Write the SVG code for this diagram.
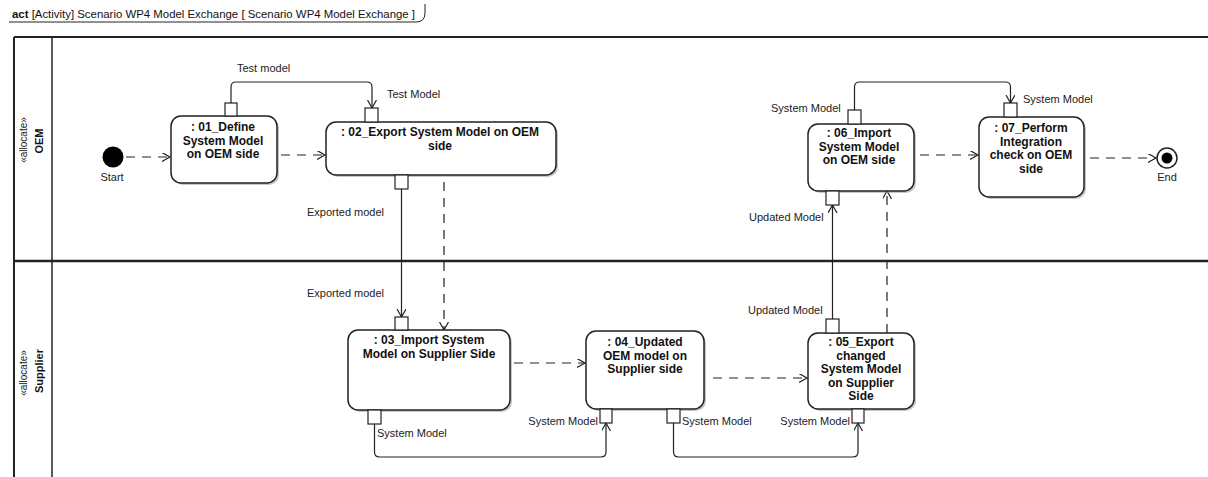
<svg xmlns="http://www.w3.org/2000/svg" width="1208" height="477" viewBox="0 0 1208 477">
  <defs>
    <marker id="open" markerWidth="10" markerHeight="10" refX="8" refY="4.5" orient="auto" markerUnits="userSpaceOnUse">
      <path d="M0,0 L8,4.5 L0,9" fill="none" stroke="#222" stroke-width="1.2"/>
    </marker>
  </defs>
  <style>
    .frame { fill: none; stroke: #222; }
    .box { fill: #fff; stroke: #222; stroke-width: 1.5; }
    .shadow { fill: #999; opacity: 0.55; }
    .pin { fill: #fff; stroke: #222; stroke-width: 1.2; }
    .flow { fill: none; stroke: #222; stroke-width: 1.2; marker-end: url(#open); }
    .ctrl { fill: none; stroke: #222; stroke-width: 1.2; stroke-dasharray: 9 7; marker-end: url(#open); }
    .title { font-family: "Liberation Sans", Arial, sans-serif; font-size: 11px; fill: #111; }
    .name { font-family: "Liberation Sans", Arial, sans-serif; font-size: 12px; font-weight: bold; fill: #111; text-anchor: middle; }
    .lbl { font-family: "Liberation Sans", Arial, sans-serif; font-size: 11px; fill: #222; }
    .stereo { font-family: "Liberation Sans", Arial, sans-serif; font-size: 10px; fill: #222; text-anchor: middle; }
    .lane { font-family: "Liberation Sans", Arial, sans-serif; font-size: 11px; font-weight: bold; fill: #111; text-anchor: middle; }
  </style>
  <rect width="1208" height="477" fill="#fff"/>

  <!-- diagram frame header -->
  <g id="frame-header">
    <text class="title" x="12" y="18" textLength="403" lengthAdjust="spacingAndGlyphs"><tspan font-weight="bold">act</tspan> [Activity] Scenario WP4 Model Exchange [ Scenario WP4 Model Exchange ]</text>
    <path class="frame" stroke-width="1" d="M9,22 H416 Q425,22 425,13 V4"/>
  </g>

  <!-- swimlanes -->
  <g id="lanes">
    <path class="frame" stroke-width="2" d="M14,37 H1208 M14,37 V477"/>
    <path class="frame" stroke-width="1.5" d="M52,37 V477"/>
    <path class="frame" stroke-width="2.5" d="M14,261 H1208"/>
    <g id="lane-oem">
      <text class="stereo" transform="translate(27,140) rotate(-90)">«allocate»</text>
      <text class="lane" transform="translate(43,141) rotate(-90)">OEM</text>
    </g>
    <g id="lane-supplier">
      <text class="stereo" transform="translate(27,373) rotate(-90)">«allocate»</text>
      <text class="lane" transform="translate(43,371) rotate(-90)">Supplier</text>
    </g>
  </g>

  <!-- connectors -->
  <g id="connectors">
    <!-- control flows -->
    <path class="ctrl" d="M126,157 H170"/>
    <path class="ctrl" d="M281,155 H325"/>
    <path class="ctrl" d="M444,182 V330"/>
    <path class="ctrl" d="M514,363 H585"/>
    <path class="ctrl" d="M713,378 H807"/>
    <path class="ctrl" d="M887,333 V191"/>
    <path class="ctrl" d="M920,155 H978"/>
    <path class="ctrl" d="M1090,158 H1156"/>
    <!-- object flows -->
    <path class="flow" d="M231,103 V87 Q231,82 236,82 H367 Q372,82 372,87 V108"/>
    <path class="flow" d="M401.5,189 V317"/>
    <path class="flow" d="M374.5,424 V452 Q374.5,457 379.5,457 H601 Q606,457 606,452 V423"/>
    <path class="flow" d="M673.5,423 V452 Q673.5,457 678.5,457 H853 Q858,457 858,452 V423"/>
    <path class="flow" d="M832.5,319 V205"/>
    <path class="flow" d="M854.5,110 V87 Q854.5,82 859.5,82 H1005.5 Q1010.5,82 1010.5,87 V103"/>
  </g>

  <!-- connector labels -->
  <g id="connector-labels">
    <text class="lbl" x="237" y="72">Test model</text>
    <text class="lbl" x="387" y="98">Test Model</text>
    <text class="lbl" x="307" y="216">Exported model</text>
    <text class="lbl" x="307" y="297">Exported model</text>
    <text class="lbl" x="377" y="437">System Model</text>
    <text class="lbl" x="598" y="425" text-anchor="end">System Model</text>
    <text class="lbl" x="682" y="425">System Model</text>
    <text class="lbl" x="850" y="425" text-anchor="end">System Model</text>
    <text class="lbl" x="748" y="314">Updated Model</text>
    <text class="lbl" x="749" y="221">Updated Model</text>
    <text class="lbl" x="771" y="112">System Model</text>
    <text class="lbl" x="1023" y="103">System Model</text>
  </g>

  <!-- start / end -->
  <g id="start">
    <circle cx="113" cy="157" r="10.5" fill="#000"/>
    <text class="lbl" x="112" y="181" text-anchor="middle">Start</text>
  </g>
  <g id="end">
    <circle cx="1167" cy="158" r="10" fill="#fff" stroke="#222" stroke-width="1.5"/>
    <circle cx="1167" cy="158" r="5.5" fill="#000"/>
    <text class="lbl" x="1167" y="181" text-anchor="middle">End</text>
  </g>

  <!-- actions -->
  <g id="a01">
    <rect class="shadow" x="173" y="118" width="106" height="67" rx="10"/>
    <rect class="box" x="171" y="116" width="106" height="67" rx="10"/>
    <rect class="pin" x="225" y="103" width="12" height="13"/>
    <text class="name" x="223" y="131">: 01_Define</text>
    <text class="name" x="223" y="144.5">System Model</text>
    <text class="name" x="223" y="158">on OEM side</text>
  </g>

  <g id="a02">
    <rect class="shadow" x="328" y="124" width="230" height="53" rx="10"/>
    <rect class="box" x="326" y="122" width="230" height="53" rx="10"/>
    <rect class="pin" x="365" y="108" width="13" height="14"/>
    <rect class="pin" x="395" y="175" width="13" height="14"/>
    <text class="name" x="440" y="136">: 02_Export System Model on OEM</text>
    <text class="name" x="440" y="149.5">side</text>
  </g>

  <g id="a03">
    <rect class="shadow" x="350" y="332" width="162" height="80" rx="10"/>
    <rect class="box" x="348" y="330" width="162" height="80" rx="10"/>
    <rect class="pin" x="395" y="317" width="13" height="13"/>
    <rect class="pin" x="368" y="410" width="13" height="14"/>
    <text class="name" x="429" y="344">: 03_Import System</text>
    <text class="name" x="429" y="357.5">Model on Supplier Side</text>
  </g>

  <g id="a04">
    <rect class="shadow" x="588" y="333" width="118" height="78" rx="10"/>
    <rect class="box" x="586" y="331" width="118" height="78" rx="10"/>
    <rect class="pin" x="600" y="409" width="12" height="14"/>
    <rect class="pin" x="667" y="409" width="13" height="14"/>
    <text class="name" x="645" y="346">: 04_Updated</text>
    <text class="name" x="645" y="359.5">OEM model on</text>
    <text class="name" x="645" y="373">Supplier side</text>
  </g>

  <g id="a05">
    <rect class="shadow" x="810" y="335" width="106" height="76" rx="10"/>
    <rect class="box" x="808" y="333" width="106" height="76" rx="10"/>
    <rect class="pin" x="826" y="319" width="13" height="14"/>
    <rect class="pin" x="852" y="409" width="12" height="14"/>
    <text class="name" x="861" y="346">: 05_Export</text>
    <text class="name" x="861" y="359.5">changed</text>
    <text class="name" x="861" y="373">System Model</text>
    <text class="name" x="861" y="386.5">on Supplier</text>
    <text class="name" x="861" y="400">Side</text>
  </g>

  <g id="a06">
    <rect class="shadow" x="810" y="126" width="106" height="67" rx="10"/>
    <rect class="box" x="808" y="124" width="106" height="67" rx="10"/>
    <rect class="pin" x="848" y="110" width="13" height="14"/>
    <rect class="pin" x="826" y="191" width="13" height="14"/>
    <text class="name" x="859" y="137">: 06_Import</text>
    <text class="name" x="859" y="150.5">System Model</text>
    <text class="name" x="859" y="164">on OEM side</text>
  </g>

  <g id="a07">
    <rect class="shadow" x="981" y="119" width="105" height="80" rx="10"/>
    <rect class="box" x="979" y="117" width="105" height="80" rx="10"/>
    <rect class="pin" x="1004" y="103" width="13" height="14"/>
    <text class="name" x="1031" y="132">: 07_Perform</text>
    <text class="name" x="1031" y="145.5">Integration</text>
    <text class="name" x="1031" y="159">check on OEM</text>
    <text class="name" x="1031" y="172.5">side</text>
  </g>
</svg>
